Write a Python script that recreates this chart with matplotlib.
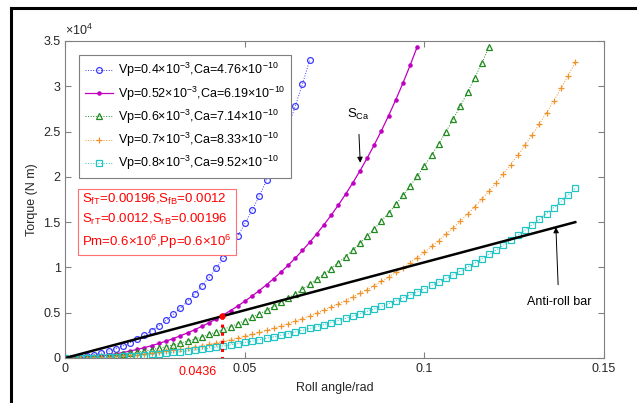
import matplotlib
matplotlib.use('Agg')
import matplotlib.pyplot as plt
from matplotlib.lines import Line2D

plt.rcParams['font.family'] = ['Liberation Sans', 'DejaVu Sans']
plt.rcParams['mathtext.fontset'] = 'custom'
plt.rcParams['mathtext.rm'] = 'Liberation Sans'
plt.rcParams['mathtext.it'] = 'Liberation Sans:italic'
plt.rcParams['mathtext.bf'] = 'Liberation Sans:bold'

# roll angle (rad), shared by all curves
roll_angle = [0.000, 0.002, 0.004, 0.006, 0.008, 0.010, 0.012, 0.014, 0.016, 0.018,
              0.020, 0.022, 0.024, 0.026, 0.028, 0.030, 0.032, 0.034, 0.036, 0.038,
              0.040, 0.042, 0.044, 0.046, 0.048, 0.050, 0.052, 0.054, 0.056, 0.058,
              0.060, 0.062, 0.064, 0.066, 0.068, 0.070, 0.072, 0.074, 0.076, 0.078,
              0.080, 0.082, 0.084, 0.086, 0.088, 0.090, 0.092, 0.094, 0.096, 0.098,
              0.100, 0.102, 0.104, 0.106, 0.108, 0.110, 0.112, 0.114, 0.116, 0.118,
              0.120, 0.122, 0.124, 0.126, 0.128, 0.130, 0.132, 0.134, 0.136, 0.138,
              0.140, 0.142]

# torque (N m)
torque_vp04 = [0, 21, 83, 186, 331, 518, 747, 1017, 1331, 1688,
               2089, 2536, 3029, 3571, 4162, 4806, 5504, 6260, 7077, 7958,
               8908, 9930, 11031, 12214, 13487, 14856, 16328, 17910, 19611, 21440,
               23406, 25520, 27793, 30236, 32862]
torque_vp052 = [0, 9, 38, 85, 150, 235, 339, 461, 603, 764,
                944, 1144, 1363, 1603, 1864, 2146, 2449, 2775, 3123, 3496,
                3892, 4315, 4763, 5240, 5745, 6281, 6849, 7450, 8087, 8761,
                9474, 10228, 11026, 11871, 12764, 13709, 14709, 15766, 16885, 18069,
                19321, 20645, 22046, 23528, 25095, 26752, 28505, 30357, 32316, 34386]
torque_vp06 = [0, 6, 25, 57, 102, 159, 229, 311, 407, 515,
               637, 771, 918, 1079, 1253, 1441, 1643, 1859, 2089, 2334,
               2594, 2869, 3161, 3468, 3793, 4135, 4495, 4874, 5272, 5690,
               6130, 6591, 7075, 7584, 8117, 8676, 9263, 9878, 10524, 11201,
               11911, 12656, 13437, 14256, 15115, 16016, 16961, 17952, 18991, 20081,
               21224, 22422, 23679, 24996, 26378, 27826, 29343, 30933, 32600, 34346]
torque_vp07 = [0, 4, 15, 33, 59, 93, 134, 182, 238, 301,
               372, 450, 536, 630, 731, 840, 957, 1083, 1216, 1358,
               1508, 1667, 1835, 2011, 2197, 2393, 2599, 2814, 3040, 3277,
               3525, 3785, 4057, 4341, 4638, 4949, 5274, 5613, 5968, 6338,
               6725, 7130, 7552, 7994, 8455, 8937, 9440, 9966, 10515, 11089,
               11688, 12315, 12969, 13652, 14366, 15111, 15890, 16704, 17553, 18440,
               19366, 20334, 21343, 22397, 23497, 24645, 25843, 27093, 28397, 29757,
               31175, 32654]
torque_vp08 = [0, 3, 11, 24, 43, 68, 97, 133, 173, 219,
               271, 328, 390, 458, 532, 611, 696, 786, 882, 984,
               1091, 1205, 1324, 1450, 1581, 1719, 1863, 2013, 2170, 2333,
               2504, 2681, 2865, 3057, 3256, 3463, 3677, 3900, 4131, 4370,
               4618, 4875, 5142, 5418, 5703, 5999, 6306, 6624, 6952, 7293,
               7645, 8010, 8388, 8779, 9184, 9603, 10037, 10487, 10952, 11434,
               11932, 12448, 12983, 13536, 14109, 14701, 15315, 15951, 16608, 17289,
               17994, 18724]

# anti-roll bar (straight line)
bar_angle = [0.0, 0.142]
bar_torque = [0, 15000]

# marked operating point
mark_angle = 0.0436
mark_torque = 4670

vp_labels = ['0.4', '0.52', '0.6', '0.7', '0.8']
ca_labels = ['4.76', '6.19', '7.14', '8.33', '9.52']
series = [torque_vp04, torque_vp052, torque_vp06, torque_vp07, torque_vp08]
colors = ['#3a3aff', '#c000c0', '#1f8a1f', '#f0932b', '#22c4c4']
markers = ['o', '.', '^', '+', 's']
styles = [':', '-', ':', ':', ':']

ytick_vals = [0, 5000, 10000, 15000, 20000, 25000, 30000, 35000]
ytick_text = ['0', '0.5', '1', '1.5', '2', '2.5', '3', '3.5']
xtick_vals = [0, 0.05, 0.1, 0.15]
xtick_text = ['0', '0.05', '0.1', '0.15']

box_lines = ['S$_{\\mathrm{fT}}$=0.00196,S$_{\\mathrm{fB}}$=0.0012',
             'S$_{\\mathrm{rT}}$=0.0012,S$_{\\mathrm{rB}}$=0.00196',
             'Pm=0.6\u00d710$^{6}$,Pp=0.6\u00d710$^{6}$']

fig = plt.figure(figsize=(6.37, 4.03), dpi=100)
ax = fig.add_axes([0.1028, 0.1117, 0.8454, 0.7866])

for i in range(len(series)):
    y = series[i]
    x = roll_angle[:len(y)]
    lab = 'Vp=' + vp_labels[i] + '\u00d710$^{-3}$,Ca=' + ca_labels[i] + '\u00d710$^{-10}$'
    if markers[i] == '.':
        ax.plot(x, y, ls=styles[i], lw=0.9, color=colors[i], marker='.', ms=4.5, label=lab)
    elif markers[i] == '+':
        ax.plot(x, y, ls=styles[i], lw=0.7, color=colors[i], marker='+', ms=5, mew=0.9, label=lab)
    else:
        ax.plot(x, y, ls=styles[i], lw=0.7, color=colors[i], marker=markers[i], ms=4.2,
                mfc='none', mew=0.9, label=lab)

ax.plot(bar_angle, bar_torque, color='black', lw=1.8)
ax.plot([mark_angle, mark_angle], [mark_torque, 0], ls=':', color='red', lw=2.2,
        dash_capstyle='butt', clip_on=True)
ax.plot(mark_angle, mark_torque, 'o', color='red', ms=3.5)

ax.set_xlim(0, 0.15)
ax.set_ylim(0, 35000)
ax.set_xticks(xtick_vals)
ax.set_xticklabels(xtick_text)
ax.set_yticks(ytick_vals)
ax.set_yticklabels(ytick_text)
ax.tick_params(direction='in', top=True, right=True, length=4, width=0.8,
               color='#808080', labelsize=9, labelcolor='#262626')
for s in ax.spines.values():
    s.set_color('#808080')
    s.set_linewidth(0.8)
ax.text(0.0, 1.008, '\u00d710$^{4}$', transform=ax.transAxes, fontsize=9,
        color='#262626', ha='left', va='bottom')

ax.set_xlabel('Roll angle/rad', fontsize=9, color='#262626', labelpad=5)
ax.set_ylabel('Torque (N m)', fontsize=9, color='#262626', labelpad=4)

ax.text(mark_angle - 0.0015, -0.045, '0.0436', color='red', fontsize=9,
        ha='right', va='center', transform=ax.get_xaxis_transform())

leg = ax.legend(loc='upper left', bbox_to_anchor=(0.025, 0.956), borderaxespad=0,
                fancybox=False, edgecolor='#7f7f7f', framealpha=1, fontsize=9,
                handlelength=2.2, labelspacing=0.40, borderpad=0.5, handletextpad=0.4)
leg.get_frame().set_linewidth(0.8)

ax.text(0.031, 0.525, '\n'.join(box_lines), transform=ax.transAxes, color='red',
        fontsize=9.5, ha='left', va='top', linespacing=1.45,
        bbox=dict(boxstyle='square,pad=0.3', fc='white', ec='#ff7070', lw=0.8))

ax.annotate('S$_{\\mathrm{Ca}}$', xy=(0.0821, 21560), xytext=(0.0815, 26900),
            ha='center', va='center', fontsize=9.5,
            arrowprops=dict(arrowstyle='-|>', color='black', lw=0.7,
                            shrinkA=7, shrinkB=0, mutation_scale=8))
ax.annotate('Anti-roll bar', xy=(0.1366, 14430), xytext=(0.1374, 6200),
            ha='center', va='center', fontsize=9,
            arrowprops=dict(arrowstyle='-|>', color='black', lw=0.7,
                            shrinkA=6, shrinkB=0, mutation_scale=8))

# black frame of the original figure (top and left edges)
fig.add_artist(Line2D([10.5 / 637, 1], [1 - 7.5 / 403, 1 - 7.5 / 403],
                      transform=fig.transFigure, color='black', lw=2.2))
fig.add_artist(Line2D([10.5 / 637, 10.5 / 637], [0, 1 - 7.5 / 403],
                      transform=fig.transFigure, color='black', lw=2.2))

fig.savefig('out.png', dpi=100)
